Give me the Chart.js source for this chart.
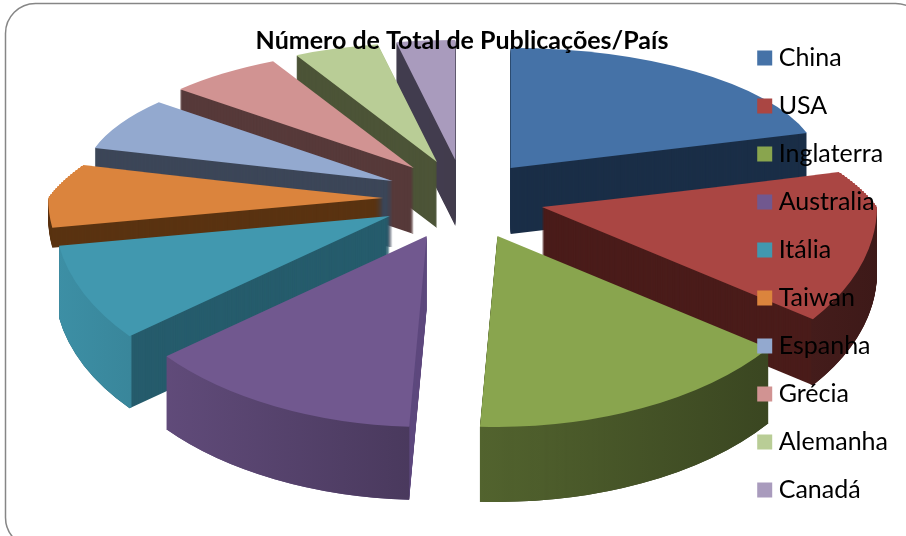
<!DOCTYPE html>
<html lang="pt">
<head>
    <meta charset="UTF-8">
    <title>Número de Total de Publicações/País</title>
    <script src="https://cdn.jsdelivr.net/npm/chart.js"></script>
    <style>
        body { margin: 0; background: #fff; }
        canvas { display: block; }
    </style>
</head>
<body>
    <canvas id="myChart" width="906" height="536"></canvas>

    <script>
        const paises = ['China', 'USA', 'Inglaterra', 'Australia', 'Itália', 'Taiwan', 'Espanha', 'Grécia', 'Alemanha', 'Canadá'];
        const publicacoes = [73, 53, 57, 48, 30, 25, 25, 22, 16, 11];

        const cores = ['#4572A7', '#AA4643', '#89A54E', '#71588F', '#4198AF', '#DB843D', '#93A9CF', '#D19392', '#B9CD96', '#A99BBD'];
        const coresParede = ['#1A2E47', '#4A1C1A', '#3A4220', '#5F4A7F', '#265C6C', '#5A3311', '#3C4658', '#573A3A', '#4C5437', '#423D4E'];
        const alturas = [66, 66, 75, 73, 72, 20, 66, 66, 66, 66];

        // fake 3D view: back half of the pie is flatter and narrower than the front half
        const view = { x: 463, y: 200, explode: 80, tiltExplode: 0.5, tiltBack: 0.358, tiltFront: 0.57, narrowBack: 0.925, narrowRamp: 36 };

        function shade(hex, f) {
            const n = parseInt(hex.slice(1), 16);
            return `rgb(${(n >> 16) * f | 0},${((n >> 8) & 255) * f | 0},${(n & 255) * f | 0})`;
        }

        function faceOptions(fill) {
            return { backgroundColor: fill, borderWidth: 0, offset: 0, spacing: 0, circular: true, borderAlign: 'center' };
        }

        function apex(mid) {
            return {
                x: view.x + Math.cos(mid) * view.explode,
                y: Math.round(view.y + Math.sin(mid) * view.explode * view.tiltExplode)
            };
        }

        function drawPiece(ctx, el, ax, ay, sx, tilt, top, h) {
            ctx.save();
            ctx.beginPath();
            ctx.rect(0, top, 906, h);
            ctx.clip();
            ctx.translate(ax, ay);
            ctx.scale(sx, tilt);
            ctx.translate(-el.x, -el.y);
            el.draw(ctx);
            ctx.restore();
        }

        // ay is a whole pixel here, so the clip rows meet with no seam
        function drawAt(ctx, el, a, kind, dy, fill) {
            const ay = a.y + dy;
            el.options = faceOptions(fill);
            if (kind === 'crossing') {
                // slices over the horizon narrow little by little, so the outline has no step
                const ramp = view.narrowRamp;
                drawPiece(ctx, el, a.x, ay, view.narrowBack, view.tiltBack, 0, ay - ramp);
                for (let t = 0; t < ramp; t += 2) {
                    const sx = 1 - (1 - view.narrowBack) * (t + 1) / ramp;
                    drawPiece(ctx, el, a.x, ay, sx, view.tiltBack, ay - t - 2, 2);
                }
            } else {
                const sx = kind === 'back' ? view.narrowBack : 1;
                drawPiece(ctx, el, a.x, ay, sx, view.tiltBack, 0, ay);
            }
            drawPiece(ctx, el, a.x, ay, 1, view.tiltFront, ay, 700);
        }

        function rimGradient(ctx, el, a, color) {
            const shift = a.x - el.x;
            const g = ctx.createLinearGradient(50 - shift, 0, 880 - shift, 0);
            g.addColorStop(0, shade(color, 0.95));
            g.addColorStop(0.52, shade(color, 0.6));
            g.addColorStop(1, shade(color, 0.36));
            return g;
        }

        const pie3d = {
            id: 'pie3d',
            beforeDraw(chart) {
                const ctx = chart.ctx;

                // moldura
                ctx.save();
                ctx.strokeStyle = '#868686';
                ctx.lineWidth = 1.5;
                ctx.beginPath();
                ctx.roundRect(5.5, 3.5, 920, 544, 30);
                ctx.stroke();
                ctx.restore();

                const arcs = chart.getDatasetMeta(0).data.map((el, i) => ({ el, i }));
                arcs.sort((a, b) => Math.sin((a.el.startAngle + a.el.endAngle) / 2) - Math.sin((b.el.startAngle + b.el.endAngle) / 2));

                arcs.forEach(({ el, i }) => {
                    const mid = (el.startAngle + el.endAngle) / 2;
                    const a = apex(mid);
                    const saved = { startAngle: el.startAngle, endAngle: el.endAngle, circumference: el.circumference, innerRadius: el.innerRadius, options: el.options };
                    const s0 = Math.sin(saved.startAngle);
                    const s1 = Math.sin(saved.endAngle);
                    const kind = s0 < 0 && s1 < 0 ? 'back' : (s0 < 0 || s1 < 0 ? 'crossing' : 'front');

                    for (let d = alturas[i]; d > 0; d--) {
                        drawAt(ctx, el, a, kind, d, coresParede[i]);
                    }

                    // outer rim only shows on the front half, a sliver of it is not worth drawing
                    const from = Math.max(saved.startAngle, 0);
                    const to = Math.min(saved.endAngle, Math.PI);
                    if (to - from > 0.3) {
                        el.options = faceOptions(rimGradient(ctx, el, a, cores[i]));
                        el.startAngle = from;
                        el.endAngle = to;
                        el.circumference = to - from;
                        el.innerRadius = el.outerRadius - 3;
                        for (let d = alturas[i]; d > 0; d--) {
                            drawPiece(ctx, el, a.x, a.y + d, 1, view.tiltFront, 0, 700);
                        }
                        Object.assign(el, saved);
                    }

                    drawAt(ctx, el, a, kind, 0, cores[i]);
                    el.options = saved.options;
                });
            },
            beforeDatasetsDraw() {
                return false;
            }
        };

        new Chart(document.getElementById('myChart').getContext('2d'), {
            type: 'pie',
            data: {
                labels: paises,
                datasets: [{
                    data: publicacoes,
                    backgroundColor: cores,
                    borderWidth: 0
                }]
            },
            options: {
                responsive: false,
                animation: false,
                radius: 335,
                layout: { padding: { left: 26, right: 8, top: 14, bottom: 2 } },
                plugins: {
                    tooltip: { enabled: false },
                    title: {
                        display: true,
                        text: 'Número de Total de Publicações/País',
                        color: '#000',
                        padding: { top: 12, bottom: 0 },
                        font: { family: 'Lato', size: 25, weight: 'bold' }
                    },
                    legend: {
                        position: 'right',
                        align: 'center',
                        fullSize: true,
                        labels: {
                            color: '#000',
                            // small box with a wide stroke keeps the 6px gap before the text
                            boxWidth: 3,
                            boxHeight: 3,
                            padding: 23,
                            font: { family: 'Lato', size: 25 },
                            generateLabels: () => paises.map((nome, i) => ({
                                text: nome,
                                fillStyle: cores[i],
                                strokeStyle: cores[i],
                                lineWidth: 12,
                                lineJoin: 'miter',
                                index: i
                            }))
                        }
                    }
                }
            },
            plugins: [pie3d]
        });
    </script>
</body>
</html>
